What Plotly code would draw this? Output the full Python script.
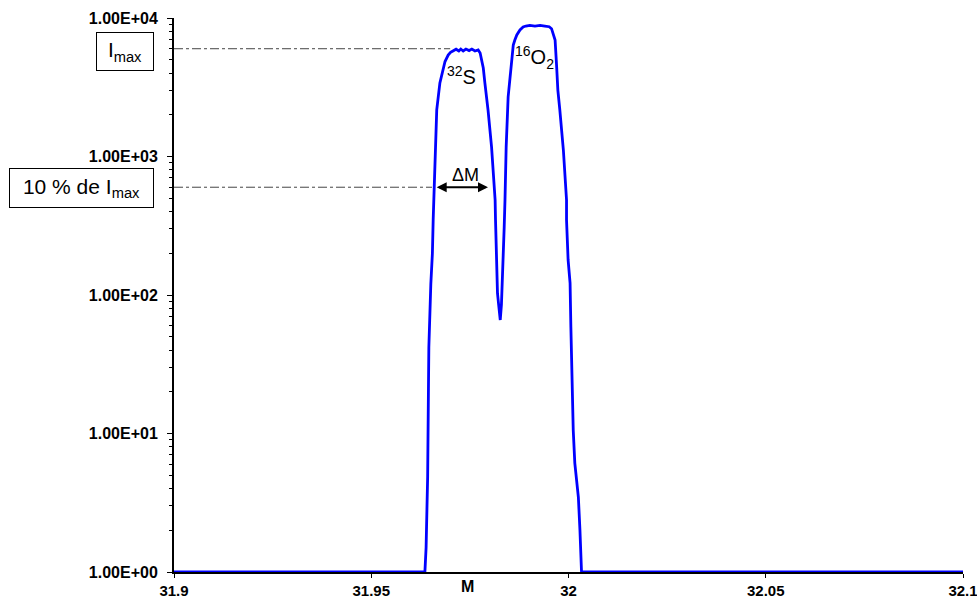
import math
import plotly.graph_objects as go

# ---- data ----
mass = [31.9000, 31.9636, 31.9639, 31.9643, 31.9645, 31.9646, 31.9651, 31.9655, 31.9657,
        31.9662, 31.9666, 31.9674, 31.9683, 31.9687, 31.9695, 31.9701, 31.9707, 31.9715,
        31.9722, 31.9727, 31.9733, 31.9740, 31.9748, 31.9755, 31.9763, 31.9771, 31.9776,
        31.9780, 31.9784, 31.9788, 31.9796, 31.9805, 31.9814, 31.9815, 31.9817, 31.9818,
        31.9820, 31.9823, 31.9825, 31.9827, 31.9830, 31.9831, 31.9833, 31.9835, 31.9837,
        31.9839, 31.9842, 31.9847, 31.9852, 31.9856, 31.9860, 31.9864, 31.9869, 31.9877,
        31.9885, 31.9892, 31.9902, 31.9915, 31.9928, 31.9940, 31.9951, 31.9957, 31.9961,
        31.9966, 31.9970, 31.9973, 31.9978, 31.9987, 31.9995, 31.9995, 31.9999, 32.0004,
        32.0006, 32.0008, 32.0012, 32.0016, 32.0025, 32.0029, 32.0033, 32.0033, 32.1000]
intensity = [1, 1, 1.5, 4.9, 21, 42, 120, 200, 350,
             1170, 2170, 3400, 4350, 4850, 5400, 5650, 5780, 5950,
             5780, 5970, 5780, 5970, 5820, 5970, 5780, 5880, 5590,
             4975, 4350, 3400, 2170, 1170, 485, 348, 222, 159,
             103, 85, 68, 66, 85, 109, 151, 222, 310,
             485, 1170, 2690, 3875, 4975, 6385, 6935, 7540, 8190,
             8610, 8750, 8850, 8750, 8850, 8750, 8650, 8370, 7700,
             6935, 4430, 3020, 2170, 1114, 485, 348, 179, 122,
             58.7, 28.7, 10.6, 6.12, 3.48, 2.01, 1.16, 1, 1]

imax = 6000
imax_line_x = [31.9, 31.9700]
tenpct_line_x = [31.9, 31.9654]
delta_m = [31.9662, 31.9796]   # arrow extent at 10 % of Imax

x_tickvals = [31.9, 31.95, 32.0, 32.05, 32.1]
x_ticktext = ["31.9", "31.95", "32", "32.05", "32.1"]
y_tickvals = [1, 10, 100, 1000, 10000]
y_ticktext = ["1.00E+00", "1.00E+01", "1.00E+02", "1.00E+03", "1.00E+04"]
y_minor = [m * 10 ** d for d in range(4) for m in range(2, 10)]

FONT = "Liberation Sans, Arial, sans-serif"

fig = go.Figure()
fig.add_trace(go.Scatter(x=imax_line_x, y=[imax, imax], mode="lines",
                         line=dict(color="#444444", width=1, dash="dashdot"), hoverinfo="skip"))
fig.add_trace(go.Scatter(x=tenpct_line_x, y=[imax / 10, imax / 10], mode="lines",
                         line=dict(color="#444444", width=1, dash="dashdot"), hoverinfo="skip"))
fig.add_trace(go.Scatter(x=mass, y=intensity, mode="lines",
                         line=dict(color="#0000FF", width=2.8)))

annos = []
# Delta M arrow
yl = math.log10(imax / 10)
annos.append(dict(x=delta_m[1], y=yl, ax=delta_m[0], ay=yl, xref="x", yref="y",
                  axref="x", ayref="y", text="", showarrow=True, arrowhead=2,
                  arrowside="end+start", arrowsize=1, arrowwidth=2, arrowcolor="black",
                  standoff=0, startstandoff=0))
annos.append(dict(x=31.9740, y=2.866, xref="x", yref="y", text="ΔM", showarrow=False,
                  font=dict(family=FONT, size=18, color="black")))
annos.append(dict(x=31.9730, y=3.588, xref="x", yref="y", text="<sup>32</sup>S", showarrow=False,
                  font=dict(family=FONT, size=20, color="black")))
annos.append(dict(x=31.9913, y=3.718, xref="x", yref="y", text="<sup>16</sup>O<sub>2</sub>",
                  showarrow=False, font=dict(family=FONT, size=20, color="black")))
# boxes
annos.append(dict(x=-0.0621, y=0.9397, xref="paper", yref="paper", text="I<sub>max</sub>",
                  xanchor="center", yanchor="middle",
                  showarrow=False, width=56, height=37, borderpad=0, borderwidth=1,
                  bordercolor="black", bgcolor="white",
                  font=dict(family=FONT, size=21, color="black")))
annos.append(dict(x=-0.1169, y=0.6937, xref="paper", yref="paper", text="10 % de I<sub>max</sub>",
                  xanchor="center", yanchor="middle",
                  showarrow=False, width=143, height=38, borderpad=0, borderwidth=1,
                  bordercolor="black", bgcolor="white",
                  font=dict(family=FONT, size=21, color="black")))
annos.append(dict(x=31.9743, y=-0.027, xref="x", yref="paper", text="M", showarrow=False,
                  yanchor="middle",
                  font=dict(family=FONT, size=16, color="black", weight="bold")))

fig.update_layout(
    width=977, height=602,
    margin=dict(l=174, r=14, t=18, b=30, autoexpand=False),
    paper_bgcolor="white", plot_bgcolor="white",
    showlegend=False,
    annotations=annos,
    xaxis=dict(range=[31.9, 32.1], tickmode="array", tickvals=x_tickvals, ticktext=x_ticktext,
               showgrid=False, zeroline=False, showline=True, linecolor="black", linewidth=2,
               ticks="outside", ticklen=4, tickwidth=1, tickcolor="black", automargin=False,
               ticklabeloverflow="allow",
               tickfont=dict(family=FONT, size=15, color="black", weight="bold")),
    yaxis=dict(type="log", range=[0, 4], tickmode="array", tickvals=y_tickvals,
               ticktext=y_ticktext, showgrid=False, zeroline=False, showline=True,
               linecolor="black", linewidth=2, ticks="outside", ticklen=5, tickwidth=1,
               tickcolor="black", ticklabelstandoff=6, automargin=False,
               ticklabeloverflow="allow",
               minor=dict(tickmode="array", tickvals=y_minor, ticks="outside", ticklen=3,
                          tickwidth=1, tickcolor="black", showgrid=False),
               tickfont=dict(family=FONT, size=16, color="black", weight="bold")),
)

fig.write_html("out.html", config={"displayModeBar": False},
               post_script="document.body.style.margin='0';document.body.style.overflow='hidden';")
